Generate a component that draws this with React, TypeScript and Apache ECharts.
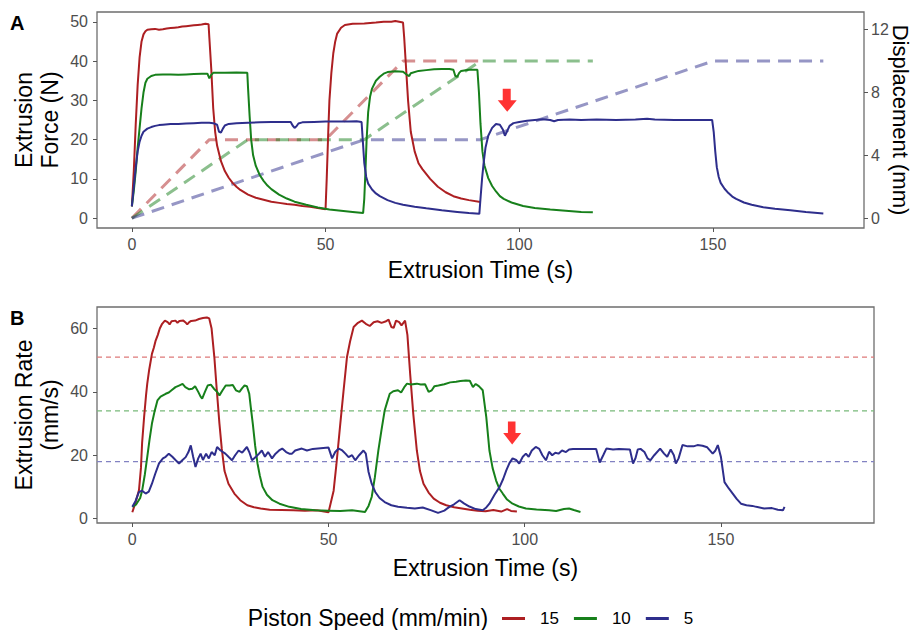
import React, { useEffect, useRef } from "react";
import * as echarts from "echarts";

const FONT = '"Liberation Sans", Arial, Helvetica, sans-serif';

const speeds = ["15", "10", "5"];
const lineColors = ["#ad1f22", "#17801b", "#2e2e8c"];
const refColors = ["#de7a7a", "#78b97a", "#8282c2"];

const X_MIN = -9;
const X_MAX = 189;
const xTicks = [0, 50, 100, 150];
const forceTicks = [0, 10, 20, 30, 40, 50];
const dispTicks = [0, 4, 8, 12];
const rateTicks = [0, 20, 40, 60];

// Panel A: extrusion force (N) vs time (s)
const forceRed = [
  [0, 3], [0.5, 12], [1, 24], [1.5, 34], [2, 41], [2.5, 45], [3, 46.8], [3.5, 47.6], [4, 48], [5, 48.1],
  [6, 48.2], [7, 48], [8, 48.1], [9, 48.3], [10, 48.4], [11, 48.5], [12, 48.6], [13, 48.8], [14, 48.9],
  [15, 49], [16, 49.1], [17, 49.2], [18, 49.3], [19, 49.5], [19.8, 49.4], [20, 46], [20.5, 38], [21, 28],
  [21.5, 22], [22, 18.5], [23, 14.5], [24, 12], [25, 10.3], [26, 9], [27, 8], [28, 7.2], [30, 6], [32, 5.2],
  [34, 4.7], [36, 4.2], [38, 3.9], [40, 3.6], [42, 3.4], [44, 3.1], [46, 2.9], [48, 2.6], [50, 2.3],
  [50.3, 10], [50.7, 22], [51, 30], [51.5, 37], [52, 42], [52.5, 45], [53, 47], [54, 48.5], [55, 49.2],
  [57, 49.5], [60, 49.6], [63, 49.8], [65, 50], [67, 50], [68, 50.2], [69, 50], [70, 49.8], [70.3, 46],
  [70.8, 38], [71.3, 30], [72, 22], [73, 17], [74, 14], [75, 12.5], [77, 10], [79, 8], [81, 6.6], [83, 5.6],
  [85, 5], [87, 4.6], [90, 4.1],
];
const forceGreen = [
  [0, 3], [0.5, 7], [1, 12], [1.5, 18], [2, 23], [2.5, 28], [3, 32], [3.5, 34.5], [4, 35.5], [5, 36.2],
  [6, 36.5], [8, 36.6], [10, 36.6], [12, 36.5], [14, 36.6], [16, 36.7], [18, 36.8], [19.5, 36.8], [20, 35.6],
  [20.5, 36.5], [21, 37], [24, 37], [27, 37.1], [29.8, 37], [30, 33], [30.4, 26], [30.8, 20], [31.3, 16],
  [32, 13.3], [33, 11], [34, 9.5], [35, 8.3], [36, 7.4], [38, 6], [40, 5], [42, 4.2], [45, 3.4], [48, 2.7],
  [51, 2.2], [54, 1.9], [57, 1.6], [59.7, 1.3], [60, 5], [60.3, 12], [60.6, 20], [61, 27], [61.5, 31],
  [62, 33], [63, 35], [64, 36], [65, 36.8], [66, 37.2], [68, 37.4], [70, 37.3], [71, 36.5], [71.6, 36.2],
  [72, 36.9], [74, 37.5], [76, 37.7], [78, 37.9], [80, 38], [82, 38], [83, 37.8], [83.5, 36.2], [84, 36],
  [84.5, 37], [85, 37.5], [87, 37.8], [89.2, 37.8], [89.6, 32], [90, 24], [90.5, 17], [91, 13.5],
  [92, 10.2], [93, 8.2], [94, 6.8], [95, 5.6], [96, 4.9], [98, 4], [101, 3.1], [104, 2.6], [108, 2.2],
  [112, 1.9], [116, 1.6], [119, 1.5],
];
const forceBlue = [
  [0, 3], [0.5, 8], [1, 13], [1.5, 17], [2, 19.5], [2.5, 21], [3, 22], [4, 22.8], [5, 23.2], [6, 23.5],
  [7, 23.7], [8, 23.8], [10, 24], [12, 24], [14, 24.1], [16, 24.2], [18, 24.3], [20, 24.3], [21, 24.2],
  [22, 23.8], [22.5, 22], [23, 21.8], [23.5, 22.8], [24, 23.6], [25, 24], [27, 24.2], [30, 24.3], [33, 24.4],
  [36, 24.5], [39, 24.5], [41, 24.5], [41.5, 23.6], [42, 23], [42.5, 23.4], [43, 24.1], [44, 24.4], [47, 24.5],
  [50, 24.6], [53, 24.6], [56, 24.6], [58, 24.7], [59.3, 24.5], [59.6, 20], [60, 14], [60.5, 10.5],
  [61, 8.8], [62, 7.3], [63, 6.3], [64, 5.6], [66, 4.6], [68, 3.9], [70, 3.4], [73, 2.9], [76, 2.5], [80, 2],
  [84, 1.6], [87, 1.3], [89.7, 1.1], [90, 5], [90.4, 10], [90.8, 14], [91.3, 18], [92, 21], [93, 23],
  [94, 24], [95, 23.8], [95.8, 22.5], [96.3, 21], [96.8, 22], [97.5, 23.5], [98.5, 24.2], [100, 24.5],
  [102, 24.8], [104, 25], [106, 25.2], [108, 25], [109, 24.7], [110, 25], [113, 25.1], [116, 25],
  [120, 25.1], [125, 25], [130, 25.1], [133, 25.3], [135, 25.1], [140, 25], [145, 25], [149.8, 25],
  [150.2, 22], [150.6, 17], [151, 13], [151.5, 10.5], [152, 9], [153, 7.5], [154, 6.4], [155, 5.5],
  [156, 4.9], [158, 4], [160, 3.4], [163, 2.8], [166, 2.4], [170, 2], [174, 1.6], [178.5, 1.2],
];

// Panel A: piston displacement (mm) vs time (s)
const dispRed = [[0, 0], [20, 5], [50, 5], [70, 10], [90, 10]];
const dispGreen = [[0, 0], [30, 5], [60, 5], [90, 10], [119, 10]];
const dispBlue = [[0, 0], [60, 5], [90, 5], [150, 10], [178.5, 10]];

// Panel B: extrusion rate (mm/s) vs time (s)
const rateRed = [
  [0, 2], [0.8, 5], [1.7, 9], [2.2, 16], [2.5, 24], [3, 32], [3.5, 39], [3.8, 42.5], [4.3, 47], [5, 52],
  [5.5, 54], [5.9, 56], [6.5, 58], [7, 60], [7.6, 61.5], [8.3, 62.5], [9, 62], [9.5, 61.3], [10, 62.3],
  [11, 62.5], [11.5, 61.8], [12, 62.4], [13, 62.5], [13.5, 62], [14, 61.3], [14.5, 62], [15, 62.4],
  [16, 62.5], [17, 63], [18, 63.3], [19, 63.5], [19.6, 63.2], [20.2, 60], [20.9, 51], [21.5, 41],
  [22.2, 30], [22.8, 22], [23.5, 15], [24.5, 11], [26, 7.9], [27.5, 5.8], [29.3, 4.2], [31, 3.6],
  [32.7, 3.2], [35, 2.8], [38, 2.7], [41, 2.6], [44, 2.5], [47, 2.6], [50, 2], [51.3, 8.8], [52, 17],
  [53, 30], [53.8, 40], [54.7, 51], [55.5, 56], [56.4, 60.5], [57.5, 61.8], [58.5, 62.5], [59.5, 61.5],
  [60.5, 60.8], [61.5, 62], [62.5, 62.3], [63.5, 61.8], [64.5, 62.2], [65.3, 62.8], [66, 60.5],
  [66.6, 60.2], [67.2, 62.5], [68, 62], [68.6, 61], [69.5, 62.5], [70.1, 58], [70.8, 45.7], [71.6, 33],
  [72.5, 21.5], [73.3, 15], [74.2, 11], [75.5, 8.2], [76.8, 6.3], [78.4, 5], [80, 4.2], [82, 3.6],
  [84, 3.2], [86, 2.8], [88, 2.5], [90, 2.3], [92, 2.7], [94, 2.2], [95.5, 3], [96.5, 2.4], [98, 2.2],
];
const rateGreen = [
  [0, 3.7], [1, 4.5], [2, 6.5], [2.5, 8.8], [3.2, 14], [3.8, 19.4], [4.4, 25], [5, 30], [5.7, 34],
  [6.4, 37.3], [7.2, 38.5], [8.5, 39.4], [9.3, 39.8], [10, 40.5], [11, 41.5], [11.9, 42], [12.8, 42.5],
  [13.5, 41.5], [14.5, 40.8], [15.3, 41], [16, 41.8], [16.8, 40], [17.4, 38.5], [17.8, 37.9], [18.5, 40],
  [19.2, 42], [20, 42.3], [20.8, 41], [21.6, 40], [22.2, 38.9], [23, 40.5], [23.8, 42], [24.8, 42],
  [25.6, 42.2], [26.4, 40.5], [27.3, 40], [28, 41.2], [28.6, 42], [29.2, 41.8], [29.8, 39.4], [30.2, 35],
  [30.7, 30], [31.3, 23], [31.9, 17.4], [32.5, 13.5], [33.2, 10], [34.3, 7.5], [35.7, 5.8], [37.5, 4.7],
  [40, 3.7], [43, 3], [46.7, 2.6], [50, 2.5], [53, 2.4], [56, 2.6], [59.3, 2.1], [60.2, 4], [61, 6.8],
  [61.8, 13], [62.7, 21.5], [63.5, 28], [64.3, 34.1], [65, 37], [65.6, 39.4], [66.5, 40.2], [67.7, 40.5],
  [68.5, 39.8], [69.3, 41.5], [70, 42.6], [71, 42.3], [72.5, 42.6], [73.5, 42.3], [74.6, 42.4], [75.5, 40],
  [76.3, 40.5], [77, 41.8], [78, 42], [79.5, 42.4], [81, 43], [82.5, 43.2], [83.6, 43.4], [85, 43.6],
  [86, 43.5], [86.8, 41.5], [87.5, 42.5], [88.3, 41.8], [89.3, 40.5], [90.2, 32], [91, 21.5], [91.8, 16],
  [92.7, 12], [93.5, 9.5], [94.4, 7.9], [95.5, 6], [96.9, 4.7], [98.5, 3.8], [100.3, 3.2], [103, 2.9],
  [106.2, 2.6], [108, 2.4], [110, 3], [111.3, 3.2], [112.5, 2.7], [114.2, 2.1],
];
const rateBlue = [
  [0, 3.7], [0.8, 5.5], [1.7, 8.4], [2.5, 8.8], [3.4, 7.9], [4.2, 8.5], [5, 11], [5.8, 14], [6.8, 17.4],
  [7.8, 19], [8.5, 19.5], [9.3, 20.5], [10.2, 19.5], [11, 18.5], [11.9, 17.4], [12.8, 18.5], [13.6, 19.4],
  [14.3, 21], [14.9, 23.1], [15.5, 19.5], [16.1, 16.3], [16.8, 19], [17.4, 20.5], [18, 18.5], [18.8, 20.5],
  [19.5, 19], [20.2, 21], [21, 20], [21.6, 22.6], [22.5, 21.5], [23.7, 20.5], [24.5, 19.5], [25.4, 18.4],
  [26.2, 20], [27.1, 21.5], [28, 20.8], [29.2, 22.6], [29.8, 21], [30.5, 18.4], [31.5, 19.5], [32.3, 20.5],
  [33, 21.5], [33.8, 19.5], [34.6, 21], [35.6, 19], [36.5, 20.5], [37.4, 21.5], [38.2, 22.1], [39.2, 21],
  [40, 20.5], [40.7, 20.5], [41.5, 21.5], [43.2, 22.1], [44.5, 21.5], [46, 22], [48, 22.2], [50, 22.4],
  [50.9, 19], [51.7, 21], [52.6, 22.1], [53.5, 21.5], [54.3, 20.5], [55.1, 19.4], [56, 20], [56.8, 18.4],
  [57.8, 20], [58.9, 21.5], [59.5, 20.5], [60.2, 14.7], [61, 11], [61.9, 8.4], [63, 6.5], [64.3, 5.2],
  [66, 4.2], [67.7, 3.7], [70, 3.4], [72, 3.2], [74, 3.5], [76.2, 2.6], [77.9, 1.8], [79.5, 2.5],
  [80.8, 3.7], [82, 4.5], [83.4, 5.8], [84.5, 4.8], [85.9, 3.8], [87.5, 3], [89.3, 2.6], [90.2, 3.5],
  [91, 4.7], [92.3, 7.5], [93.6, 10], [94.5, 12.5], [95.3, 15.2], [96.1, 17.5], [96.9, 19], [97.8, 18.5],
  [98.6, 17.4], [99.5, 19.5], [100.3, 20.5], [101, 19.5], [101.8, 21.5], [102.8, 22.6], [103.7, 22],
  [104.5, 20], [105.4, 18.4], [106.2, 21.1], [107, 20], [107.8, 20.8], [108.6, 20.5], [109.5, 21.5],
  [110.5, 21], [111.3, 21.8], [112.3, 22], [114, 22], [116, 22], [118.2, 22], [119.1, 17.7], [120, 20],
  [120.8, 22.1], [122.5, 21.8], [124, 22], [126.8, 21.8], [127.6, 17.4], [128.2, 19], [128.8, 21.8],
  [129.5, 22], [130.5, 21], [131.3, 19], [132, 18.4], [133, 20], [134.5, 22.1], [135.5, 20.5],
  [136.3, 19.5], [137.2, 21.8], [138, 20], [138.5, 17.4], [139.2, 19], [140.2, 23.2], [141.5, 22.8],
  [143, 22.8], [144, 23.2], [145.3, 23], [146.5, 22.5], [147.9, 20.5], [148.6, 21.5], [149.2, 23.2],
  [150, 19.4], [150.9, 11.5], [152, 9.5], [153, 7.9], [154, 6.2], [155.1, 4.7], [156.5, 4.2], [158, 4],
  [159, 3.7], [161, 3.2], [163, 3.3], [164.5, 2.8], [165.8, 2.6], [166.2, 3.7],
];

// Target extrusion rates (horizontal dashed reference lines), one per speed
const rateRefs = [51, 34, 18];

// Red arrow markers
const arrowA = [[96.9, 30]];
const arrowB = [[96.8, 27]];

const forceData = [forceRed, forceGreen, forceBlue];
const dispData = [dispRed, dispGreen, dispBlue];
const rateData = [rateRed, rateGreen, rateBlue];

const ARROW = "path://M5,0 L13,0 L13,11 L19,11 L9.5,22 L0,11 L5,11 Z";

export default function App() {
  const ref = useRef<HTMLDivElement>(null);
  useEffect(() => {
    if (!ref.current) return;
    const chart = echarts.init(ref.current, undefined, { renderer: "svg" });

    const tickLabel = { fontSize: 16, color: "#4d4d4d", fontFamily: FONT };
    const xAxis = (gridIndex: number) => ({
      type: "value",
      gridIndex,
      min: X_MIN,
      max: X_MAX,
      axisLine: { show: false, onZero: false },
      axisTick: { show: true, length: 4, lineStyle: { color: "#555", width: 1 }, customValues: xTicks },
      axisLabel: { ...tickLabel, margin: 8, customValues: xTicks },
      splitLine: { show: false },
    });
    const yAxis = (gridIndex: number, min: number, max: number, ticks: number[], position = "left") => ({
      type: "value",
      gridIndex,
      min,
      max,
      position,
      axisLine: { show: false, onZero: false },
      axisTick: { show: true, length: 4, lineStyle: { color: "#555", width: 1 }, customValues: ticks },
      axisLabel: { ...tickLabel, margin: position === "left" ? 9 : 7, customValues: ticks },
      splitLine: { show: false },
    });

    const series: any[] = [];
    speeds.forEach((s, i) => {
      series.push({
        name: "ref" + s,
        type: "line",
        xAxisIndex: 1,
        yAxisIndex: 2,
        data: [[X_MIN, rateRefs[i]], [X_MAX, rateRefs[i]]],
        showSymbol: false,
        silent: true,
        color: refColors[i],
        lineStyle: { color: refColors[i], width: 1.2, type: [5, 4] },
        z: 1,
      });
    });
    speeds.forEach((s, i) => {
      series.push({
        name: "disp" + s,
        type: "line",
        xAxisIndex: 0,
        yAxisIndex: 1,
        data: dispData[i],
        showSymbol: false,
        color: lineColors[i],
        lineStyle: { color: lineColors[i], width: 3, type: [13, 8], opacity: 0.5 },
        z: 2,
      });
    });
    speeds.forEach((s, i) => {
      series.push({
        name: s,
        type: "line",
        xAxisIndex: 0,
        yAxisIndex: 0,
        data: forceData[i],
        showSymbol: false,
        color: lineColors[i],
        lineStyle: { color: lineColors[i], width: 2 },
        z: 3,
      });
    });
    speeds.forEach((s, i) => {
      series.push({
        name: "rate" + s,
        type: "line",
        xAxisIndex: 1,
        yAxisIndex: 2,
        data: rateData[i],
        showSymbol: false,
        color: lineColors[i],
        lineStyle: { color: lineColors[i], width: 2 },
        z: 3,
      });
    });
    series.push({
      name: "arrowA",
      type: "scatter",
      xAxisIndex: 0,
      yAxisIndex: 0,
      data: arrowA,
      symbol: ARROW,
      symbolSize: [19, 23],
      itemStyle: { color: "#ff0000" },
      z: 5,
    });
    series.push({
      name: "arrowB",
      type: "scatter",
      xAxisIndex: 1,
      yAxisIndex: 2,
      data: arrowB,
      symbol: ARROW,
      symbolSize: [18, 23],
      itemStyle: { color: "#ff0000" },
      z: 5,
    });

    const title = (text: string, x: number, y: number, rotation = 0, size = 23, lh = 26) => ({
      type: "text",
      x,
      y,
      rotation,
      style: {
        text,
        fill: "#000",
        font: `${size}px ${FONT}`,
        textAlign: "center",
        textVerticalAlign: "middle",
        lineHeight: lh,
      },
    });

    chart.setOption({
      animation: false,
      backgroundColor: "#fff",
      textStyle: { fontFamily: FONT },
      grid: [
        { left: 97, top: 12, width: 767, height: 216, show: true, borderColor: "#6e6e6e", borderWidth: 1.3, backgroundColor: "transparent" },
        { left: 97, top: 307, width: 777, height: 216, show: true, borderColor: "#6e6e6e", borderWidth: 1.3, backgroundColor: "transparent" },
      ],
      xAxis: [xAxis(0), xAxis(1)],
      yAxis: [
        yAxis(0, -2.5, 52.5, forceTicks),
        yAxis(0, -0.625, 13.125, dispTicks, "right"),
        yAxis(1, -1.4, 66.8, rateTicks),
      ],
      legend: {
        data: speeds,
        left: 502,
        top: 610,
        padding: 0,
        icon: "rect",
        itemWidth: 23,
        itemHeight: 3,
        itemGap: 15,
        selectedMode: false,
        textStyle: { fontSize: 17, lineHeight: 17, color: "#000", fontFamily: FONT, padding: [0, 0, 0, 10] },
      },
      graphic: [
        { type: "text", x: 10, y: 13, style: { text: "A", font: `bold 20px ${FONT}`, fill: "#000" } },
        { type: "text", x: 10, y: 308, style: { text: "B", font: `bold 20px ${FONT}`, fill: "#000" } },
        title("Extrusion Time (s)", 480.5, 270),
        title("Extrusion Time (s)", 485.5, 568),
        title("Extrusion\nForce (N)", 37, 120, Math.PI / 2),
        title("Extrusion Rate\n(mm/s)", 37, 415, Math.PI / 2),
        title("Displacement (mm)", 900, 120, -Math.PI / 2, 22, 21),
        title("Piston Speed (mm/min)", 368, 618, 0, 23, 22),
      ],
      series,
    });
    return () => chart.dispose();
  }, []);
  return <div ref={ref} style={{ position: "absolute", left: 0, top: 0, width: 913, height: 630 }} />;
}
